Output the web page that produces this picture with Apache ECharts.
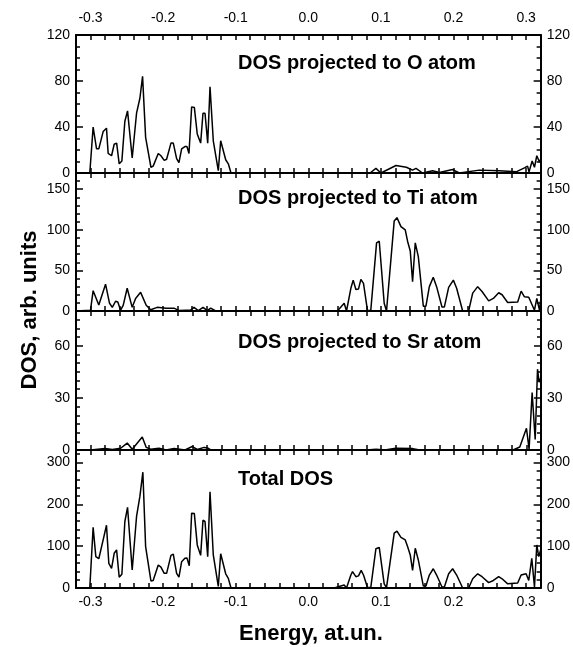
<!DOCTYPE html>
<html><head><meta charset="utf-8">
<script src="https://cdn.jsdelivr.net/npm/echarts@6/dist/echarts.min.js"></script>
<style>html,body{margin:0;padding:0;background:#fff}#c{width:573px;height:647px}</style>
</head><body><div id="c"></div>
<script>
const xTickLabels = [-0.3, -0.2, -0.1, 0.0, 0.1, 0.2, 0.3];
const panelTitles = ['DOS projected to O atom', 'DOS projected to Ti atom', 'DOS projected to Sr atom', 'Total DOS'];
const yAxisTitle = 'DOS, arb. units';
const xAxisTitle = 'Energy, at.un.';
const yMax = [120, 170, 80, 330];
const yMajor = [40, 50, 30, 100];
const yMinor = [10, 10, 5, 20];

const oE = [-0.32,-0.301,-0.2964,-0.2917,-0.2886,-0.2826,-0.278,-0.2757,-0.271,-0.2674,-0.264,-0.2605,-0.2568,-0.2527,-0.249,-0.2426,-0.2366,-0.232,-0.2283,-0.2241,-0.2168,-0.2137,-0.2067,-0.203,-0.1985,-0.1952,-0.1892,-0.186,-0.1814,-0.1782,-0.1745,-0.17,-0.1672,-0.1644,-0.1607,-0.157,-0.153,-0.1483,-0.1451,-0.1423,-0.1386,-0.1354,-0.1309,-0.124,-0.1207,-0.118,-0.1138,-0.1102,-0.1065,0.085,0.0931,0.1,0.1207,0.135,0.1436,0.1483,0.1574,0.1712,0.1804,0.1988,0.208,0.2356,0.2632,0.2862,0.2977,0.302,0.304,0.3083,0.3115,0.3147,0.3184,0.32];
const oV = [0,0,40,21,21,36,39,17,15,25,26,8,10.5,45,54,13,52,65,84,31,5,6,17,15,11,12,26,26,12.5,9,21,23,23,17,57.5,57,34,26,52,52,26,75,28,2,28,29,11.5,8,0,0,4,0,6.5,5,2.5,4,0,2,0.5,3,0,2.5,2,1,4.4,6,1,10.5,5,15,9.5,12];

const tiE = [-0.32,-0.3,-0.2964,-0.2886,-0.2793,-0.2738,-0.27,-0.2655,-0.2624,-0.2586,-0.255,-0.2495,-0.2426,-0.2379,-0.231,-0.2233,-0.2172,-0.2081,-0.196,-0.185,-0.178,-0.169,-0.162,-0.1575,-0.1515,-0.145,-0.139,-0.1345,-0.1276,0.04,0.0494,0.0526,0.0586,0.0618,0.0655,0.0691,0.0724,0.076,0.0815,0.086,0.094,0.0977,0.1045,0.1077,0.1183,0.1221,0.1276,0.1335,0.1367,0.1404,0.1436,0.1473,0.1515,0.1584,0.162,0.1667,0.1721,0.1767,0.1841,0.1874,0.1933,0.1998,0.2043,0.2126,0.2208,0.2264,0.2333,0.2393,0.2484,0.2549,0.2622,0.2669,0.2746,0.2884,0.2931,0.2977,0.3036,0.3115,0.3147,0.3184,0.32];
const tiV = [0,1,25,7.5,33,9.5,4.5,12,11,1,7,28,4.5,15.5,23,7,1.5,4.5,3.5,3.5,0.5,1,1,4.5,0.5,4.5,0.5,3.5,0,0,9.5,0,28,38,26.5,27,39,34,0.5,0.5,84,86,9.5,0,111,115,104,100,86,74,36,84,67,6,6,30,41.5,30,5,5,29,38,28,0,0,22,30,24,12.5,15.5,22.5,20,10.5,11,24.5,17.5,17,1,15.5,1,13];

const srE = [-0.32,-0.3,-0.28,-0.27,-0.2586,-0.2495,-0.2426,-0.2288,-0.2233,-0.2172,-0.2058,-0.196,-0.185,-0.17,-0.16,-0.153,-0.1437,-0.139,-0.1345,0.08,0.093,0.105,0.12,0.1436,0.153,0.2815,0.2908,0.3,0.3036,0.3078,0.312,0.3152,0.3174,0.32];
const srV = [0,0,0.8,0.3,1,4,0.4,7.5,1.5,0.4,1,0,0.8,0,2,0.3,1.5,1.2,0,0,0.5,0,1,0.8,0,0,1.7,12.5,0.5,33,6,46.5,39,42];

const totE = [-0.32,-0.301,-0.2964,-0.2927,-0.2886,-0.2826,-0.278,-0.2748,-0.271,-0.2674,-0.2641,-0.2605,-0.2568,-0.2527,-0.249,-0.2426,-0.2366,-0.232,-0.2279,-0.2241,-0.2168,-0.2137,-0.2067,-0.203,-0.1985,-0.1952,-0.1892,-0.186,-0.1814,-0.1782,-0.1745,-0.17,-0.1672,-0.164,-0.1607,-0.157,-0.153,-0.1483,-0.1451,-0.1423,-0.1386,-0.1354,-0.1309,-0.124,-0.1207,-0.118,-0.1138,-0.1102,-0.1065,0.0356,0.0494,0.0526,0.0586,0.0609,0.0655,0.0691,0.0728,0.076,0.0815,0.086,0.0931,0.0977,0.1045,0.1077,0.1183,0.1221,0.1276,0.1335,0.1367,0.1404,0.1436,0.1473,0.1515,0.1584,0.162,0.1667,0.1721,0.1767,0.1841,0.1874,0.1933,0.1988,0.2043,0.2126,0.2208,0.2264,0.2333,0.2393,0.2484,0.2549,0.2622,0.2669,0.2746,0.2884,0.2931,0.3,0.3036,0.3078,0.3115,0.3147,0.3174,0.32];
const totV = [0,0,145,75,70,115,150,59,47,83,91,26,33,159,193,43,171,219,277,99,17,18,55,50,35,35,78,81,35,26,63,71,72,53,179,178,103,78,162,159,75,230,79,4,82,85,34,23,0,0,7,0,31,39,27,29,42,31,1,1,94,97,10,1,131,136,121,115,99,79,42,95,67,5,5,31,46,31,2.5,2.5,34,46,31,0,0,22,34,27,13,18,27,22,10,12,31,34,18,71,2.5,103,75,91];

const seriesE = [oE, tiE, srE, totE];
const seriesV = [oV, tiV, srV, totV];

const FONT = "'Liberation Sans', Arial, Helvetica, sans-serif";
const tops = [35, 173, 311, 450];
const heights = [138, 138, 139, 138];
const titleY = [64, 199, 343, 480];

const grids = [], xAxes = [], yAxes = [], series = [], graphics = [];

function xFmt(v) {
  for (const t of xTickLabels) {
    if (Math.abs(v - t) < 1e-6) return t.toFixed(1);
  }
  return '';
}

for (let i = 0; i < 4; i++) {
  grids.push({ left: 76, width: 465, top: tops[i], height: heights[i] });
  ['bottom', 'top'].forEach(pos => {
    const showLab = (pos === 'bottom' && i === 3) || (pos === 'top' && i === 0);
    xAxes.push({
      type: 'value', gridIndex: i, position: pos, min: -0.32, max: 0.32, interval: 0.02,
      axisLine: { show: true, onZero: false, lineStyle: { color: '#000', width: 2 } },
      axisTick: { show: true, inside: true, length: 5, lineStyle: { color: '#000', width: 1.5 } },
      axisLabel: { show: showLab, formatter: xFmt, color: '#000', fontSize: 14, fontFamily: FONT, margin: pos === 'top' ? 10 : 7,
        showMinLabel: true, showMaxLabel: true },
      splitLine: { show: false }
    });
  });
  ['left', 'right'].forEach(pos => {
    // minor ticks + frame line
    yAxes.push({
      type: 'value', gridIndex: i, position: pos, min: 0, max: yMax[i], interval: yMinor[i],
      axisLine: { show: true, onZero: false, lineStyle: { color: '#000', width: 2 } },
      axisTick: { show: true, inside: true, length: 4, lineStyle: { color: '#000', width: 1.5 } },
      axisLabel: { show: false },
      splitLine: { show: false }
    });
    // major ticks + labels
    yAxes.push({
      type: 'value', gridIndex: i, position: pos, min: 0, max: yMax[i], interval: yMajor[i],
      axisLine: { show: false, onZero: false },
      axisTick: { show: true, inside: true, length: 7, lineStyle: { color: '#000', width: 1.5 } },
      axisLabel: { show: true, color: '#000', fontSize: 14, fontFamily: FONT, margin: 6,
        showMinLabel: true, showMaxLabel: yMax[i] % yMajor[i] === 0 },
      splitLine: { show: false }
    });
  });
  const data = seriesE[i].map((e, k) => [e, seriesV[i][k]]);
  series.push({
    type: 'line', xAxisIndex: 2 * i, yAxisIndex: 4 * i, data: data,
    showSymbol: false, symbol: 'none', animation: false,
    lineStyle: { color: '#000', width: 1.5 }, z: 1
  });
  graphics.push({
    type: 'text', left: 238, top: titleY[i] - 11,
    style: { text: panelTitles[i], fill: '#000', font: 'bold 20px ' + FONT }
  });
}

graphics.push({
  type: 'text', x: 30, y: 310, rotation: Math.PI / 2,
  style: { text: yAxisTitle, fill: '#000', font: 'bold 22px ' + FONT, textAlign: 'center', textVerticalAlign: 'middle' }
});
graphics.push({
  type: 'text', x: 311, y: 634,
  style: { text: xAxisTitle, fill: '#000', font: 'bold 22px ' + FONT, textAlign: 'center', textVerticalAlign: 'middle' }
});

const chart = echarts.init(document.getElementById('c'), null, { renderer: 'canvas' });
chart.setOption({
  animation: false,
  backgroundColor: '#fff',
  grid: grids, xAxis: xAxes, yAxis: yAxes, series: series, graphic: graphics
});
</script>
</body></html>
